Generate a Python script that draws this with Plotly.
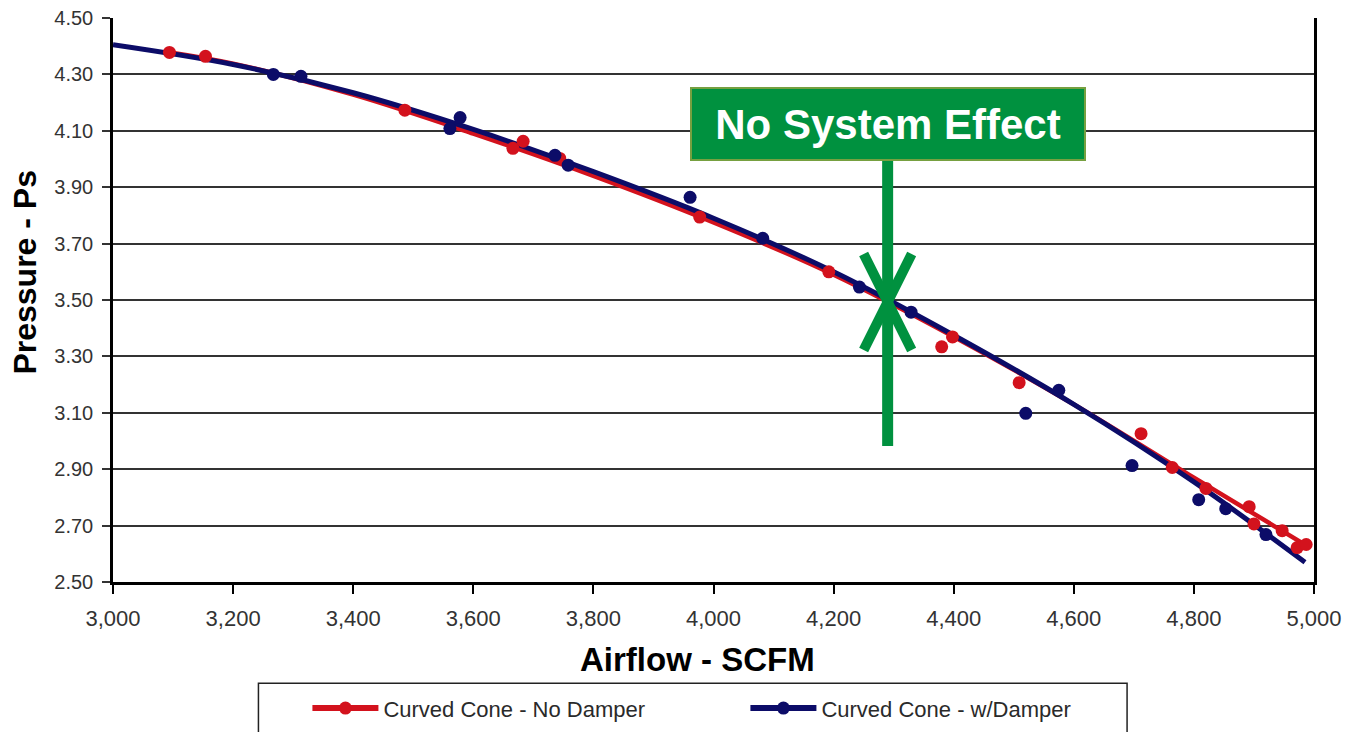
import plotly.graph_objects as go

# ---------------- data ----------------
# fitted curves
red_curve_x = [3095, 3200, 3400, 3600, 3800, 4000, 4200, 4400, 4600, 4800, 4987]
red_curve_y = [4.378, 4.338, 4.228, 4.090, 3.940, 3.775, 3.590, 3.370, 3.130, 2.870, 2.630]

blue_curve_x = [3000, 3200, 3400, 3600, 3800, 4000, 4200, 4400, 4600, 4800, 4985]
blue_curve_y = [4.405, 4.335, 4.235, 4.105, 3.955, 3.790, 3.600, 3.375, 3.130, 2.855, 2.570]

# measured points
red_pts_x = [3094, 3154, 3486, 3666, 3683, 3744, 3977, 4192, 4380, 4398, 4509,
             4712, 4764, 4820, 4892, 4900, 4947, 4972, 4987]
red_pts_y = [4.378, 4.364, 4.173, 4.038, 4.063, 4.002, 3.794, 3.600, 3.334, 3.369, 3.207,
             3.026, 2.906, 2.832, 2.767, 2.706, 2.682, 2.622, 2.633]

blue_pts_x = [3267, 3313, 3561, 3578, 3736, 3758, 3961, 4082, 4243, 4329, 4520,
              4575, 4697, 4808, 4853, 4920]
blue_pts_y = [4.300, 4.293, 4.108, 4.147, 4.013, 3.978, 3.864, 3.719, 3.546, 3.457, 3.098,
              3.180, 2.913, 2.792, 2.760, 2.668]

series_names = ["Curved Cone - No Damper", "Curved Cone - w/Damper"]
x_ticks = [3000, 3200, 3400, 3600, 3800, 4000, 4200, 4400, 4600, 4800, 5000]
y_ticks = [2.50, 2.70, 2.90, 3.10, 3.30, 3.50, 3.70, 3.90, 4.10, 4.30, 4.50]

# crossing point labelled "No System Effect"
cross_x, cross_y = 4290, 3.50
callout_text = "No System Effect"

# ---------------- styling ----------------
RED = "#d3121d"
NAVY = "#0c0c68"
GREEN = "#00913f"
FONT = "Liberation Sans, Arial, Helvetica, sans-serif"

W, H = 1348, 732
L, R, T, B = 112.5, 1314, 17.5, 582.5


def px(xp):
    return (xp - L) / (R - L)


def py(yp):
    return (B - yp) / (B - T)


fig = go.Figure()

fig.add_trace(go.Scatter(x=red_curve_x, y=red_curve_y, mode="lines",
                         line=dict(color=RED, width=4.5, shape="spline"),
                         showlegend=False, hoverinfo="skip"))
fig.add_trace(go.Scatter(x=blue_curve_x, y=blue_curve_y, mode="lines",
                         line=dict(color=NAVY, width=5, shape="spline"),
                         showlegend=False, hoverinfo="skip"))
fig.add_trace(go.Scatter(x=red_pts_x, y=red_pts_y, mode="markers",
                         marker=dict(color=RED, size=13), showlegend=False))
fig.add_trace(go.Scatter(x=blue_pts_x, y=blue_pts_y, mode="markers",
                         marker=dict(color=NAVY, size=13), showlegend=False))

# legend entries (line + marker)
fig.add_trace(go.Scatter(x=[None], y=[None], mode="lines+markers", name=series_names[0],
                         line=dict(color=RED, width=6), marker=dict(color=RED, size=13)))
fig.add_trace(go.Scatter(x=[None], y=[None], mode="lines+markers", name=series_names[1],
                         line=dict(color=NAVY, width=6), marker=dict(color=NAVY, size=13)))

fig.update_layout(
    width=W, height=H,
    margin=dict(l=L, r=W - R, t=T, b=H - B, autoexpand=False),
    paper_bgcolor="white", plot_bgcolor="white",
    font=dict(family=FONT, color="#333333"),
    showlegend=True,
    legend=dict(orientation="h", x=px(307), xanchor="left", y=py(709), yanchor="middle",
                font=dict(size=22, color="#2a2a2a", family=FONT),
                bgcolor="rgba(0,0,0,0)", borderwidth=0, itemwidth=66,
                entrywidth=357, entrywidthmode="pixels"),
    xaxis=dict(range=[3000, 5000], tickvals=x_ticks, tickformat=",d", automargin=False,
               showgrid=False, zeroline=False,
               showline=True, linecolor="black", linewidth=2.5,
               ticks="outside", ticklen=9, tickwidth=2, tickcolor="black",
               tickfont=dict(size=22, color="#333333"), ticklabelstandoff=6),
    yaxis=dict(range=[2.5, 4.5], tickvals=y_ticks, tickformat=".2f", automargin=False,
               showgrid=True, gridcolor="#333333", gridwidth=2, zeroline=False,
               showline=True, linecolor="black", linewidth=2.5, mirror=True,
               ticks="outside", ticklen=8, tickwidth=2, tickcolor="#333333",
               tickfont=dict(size=20, color="#333333"), ticklabelstandoff=5),
)

# axis titles
fig.add_annotation(xref="paper", yref="paper", x=px(697.5), y=py(660),
                   xanchor="center", yanchor="middle", showarrow=False,
                   text="<b>Airflow - SCFM</b>",
                   font=dict(size=33, color="black", family=FONT))
fig.add_annotation(xref="paper", yref="paper", x=px(25), y=py(272),
                   xanchor="center", yanchor="middle", showarrow=False, textangle=-90,
                   text="<b>Pressure - Ps</b>",
                   font=dict(size=32, color="black", family=FONT))

# legend frame (runs off the bottom of the page)
fig.add_shape(type="rect", xref="paper", yref="paper",
              x0=px(258), x1=px(1127), y0=py(684), y1=py(760),
              line=dict(color="#222222", width=1.5), fillcolor="rgba(0,0,0,0)")

# "No System Effect" call-out
fig.add_shape(type="line", xref="x", yref="y", xsizemode="pixel", ysizemode="pixel",
              xanchor=cross_x, yanchor=cross_y, x0=0, x1=0, y0=-146, y1=139,
              line=dict(color=GREEN, width=11))
fig.add_shape(type="line", xref="x", yref="y", xsizemode="pixel", ysizemode="pixel",
              xanchor=cross_x, yanchor=cross_y, x0=-24, y0=46, x1=24, y1=-50,
              line=dict(color=GREEN, width=10))
fig.add_shape(type="line", xref="x", yref="y", xsizemode="pixel", ysizemode="pixel",
              xanchor=cross_x, yanchor=cross_y, x0=24, y0=46, x1=-24, y1=-50,
              line=dict(color=GREEN, width=10))
fig.add_annotation(x=cross_x, y=cross_y, xref="x", yref="y", showarrow=False,
                   yshift=176, xshift=0,
                   text="<b>" + callout_text + "</b>",
                   font=dict(size=42, color="white", family=FONT),
                   bgcolor=GREEN, bordercolor="#76a040", borderwidth=2, borderpad=0,
                   width=392, height=70, align="center", valign="middle")

fig.write_html("out.html",
               config={"displayModeBar": False},
               post_script="document.body.style.margin='0px';"
                           "document.body.style.overflow='hidden';")
